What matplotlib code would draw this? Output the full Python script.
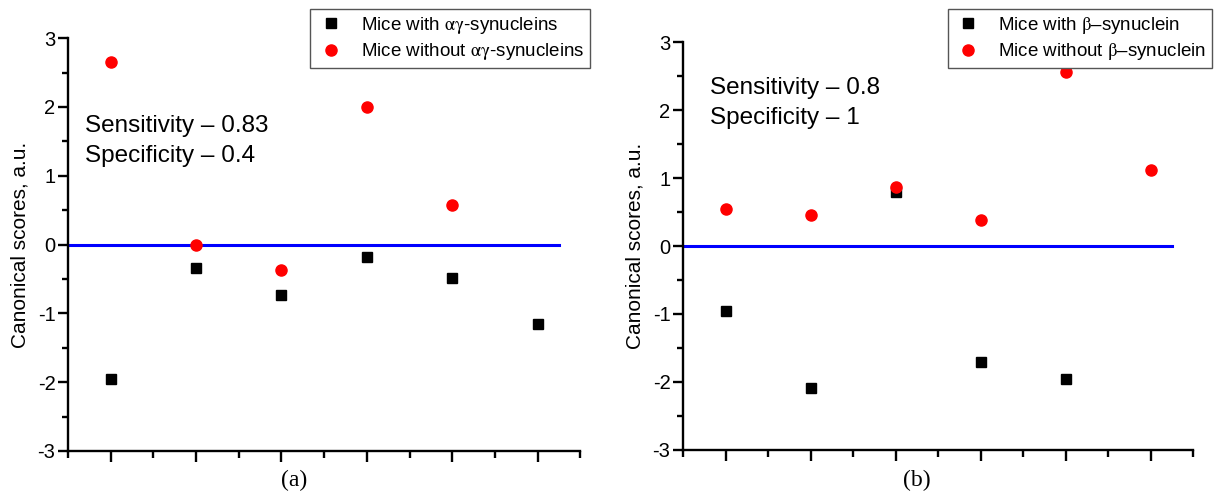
import numpy as np
import matplotlib.pyplot as plt
from matplotlib.ticker import MultipleLocator, NullFormatter

plt.rcParams['font.family'] = ['Liberation Sans', 'DejaVu Sans']
plt.rcParams['mathtext.fontset'] = 'stix'
plt.rcParams['axes.unicode_minus'] = False

# sample positions
x_a = [1, 2, 3, 4, 5, 6]
x_b = [1, 2, 3, 4, 5, 6]

# panel (a): alpha-gamma synucleins
with_a = [-1.96, -0.34, -0.74, -0.18, -0.48, -1.15]
without_a_x = [1, 2, 3, 4, 5]
without_a = [2.66, 0.0, -0.37, 2.00, 0.57]

# panel (b): beta synuclein
with_b_x = [1, 2, 3, 4, 5]
with_b = [-0.95, -2.09, 0.79, -1.71, -1.95]
without_b = [0.54, 0.46, 0.87, 0.39, 2.56, 1.12]

# discriminant border
border_x = [0.5, 6.25]
border_y = [0, 0]

fig = plt.figure(figsize=(12.14, 4.95), dpi=100)
ax1 = fig.add_axes([0.056, 0.089, 0.422, 0.834])
ax2 = fig.add_axes([0.5626, 0.091, 0.4204, 0.824])


def style(ax):
    ax.set_xlim(0.5, 6.5)
    ax.set_ylim(-3, 3)
    for s in ['top', 'right']:
        ax.spines[s].set_visible(False)
    for s in ['left', 'bottom']:
        ax.spines[s].set_linewidth(1.7)
    ax.xaxis.set_major_locator(MultipleLocator(1))
    ax.xaxis.set_minor_locator(MultipleLocator(0.5))
    ax.xaxis.set_major_formatter(NullFormatter())
    ax.yaxis.set_major_locator(MultipleLocator(1))
    ax.yaxis.set_minor_locator(MultipleLocator(0.5))
    ax.tick_params(axis='x', which='major', direction='out', length=8, width=1.7)
    ax.tick_params(axis='x', which='minor', direction='out', length=5, width=1.7)
    ax.tick_params(axis='y', which='major', direction='out', length=7, width=1.7,
                   labelsize=14.5, pad=2)
    ax.tick_params(axis='y', which='minor', direction='out', length=4, width=1.7)
    ax.set_ylabel('Canonical scores, a.u.', fontsize=15, labelpad=6)


leg_kw = dict(loc='upper right', bbox_transform=fig.transFigure, fontsize=13.5,
              frameon=True, fancybox=False, edgecolor='#555555', framealpha=1,
              handletextpad=0.8, borderpad=0.3, labelspacing=0.3, handlelength=1.6,
              borderaxespad=0)

# graph a
ax1.plot(border_x, border_y, color='#0000ff', linewidth=2.2, zorder=1)
ax1.plot(x_a, with_a, 's', color='black', markersize=7.5, linestyle='',
         label=r'Mice with $\mathrm{\alpha\gamma}$-synucleins', zorder=3)
ax1.plot(without_a_x, without_a, 'o', color='#ff0000', markersize=8, linestyle='',
         label=r'Mice without $\mathrm{\alpha\gamma}$-synucleins', zorder=4)
style(ax1)
ax1.text(0.7, 1.72, 'Sensitivity – 0.83', fontsize=17.5, va='center')
ax1.text(0.7, 1.28, 'Specificity – 0.4', fontsize=17.5, va='center')
ax1.legend(bbox_to_anchor=(590 / 1214, 1 - 9 / 495), **leg_kw)

# graph b
ax2.plot(border_x, border_y, color='#0000ff', linewidth=2.2, zorder=1)
ax2.plot(with_b_x, with_b, 's', color='black', markersize=7.5, linestyle='',
         label=r'Mice with $\mathrm{\beta}$–synuclein', zorder=3)
ax2.plot(x_b, without_b, 'o', color='#ff0000', markersize=8, linestyle='',
         label=r'Mice without $\mathrm{\beta}$–synuclein', zorder=4)
style(ax2)
ax2.text(0.82, 2.33, 'Sensitivity – 0.8', fontsize=17.5, va='center')
ax2.text(0.82, 1.88, 'Specificity – 1', fontsize=17.5, va='center')
ax2.legend(bbox_to_anchor=(1212 / 1214, 1 - 9 / 495), **leg_kw)

fig.text(294 / 1214, 1 - 480 / 495, '(a)', fontsize=17, family='Liberation Serif',
         ha='center', va='center')
fig.text(917 / 1214, 1 - 480 / 495, '(b)', fontsize=17, family='Liberation Serif',
         ha='center', va='center')

plt.savefig('out.png', dpi=100)
